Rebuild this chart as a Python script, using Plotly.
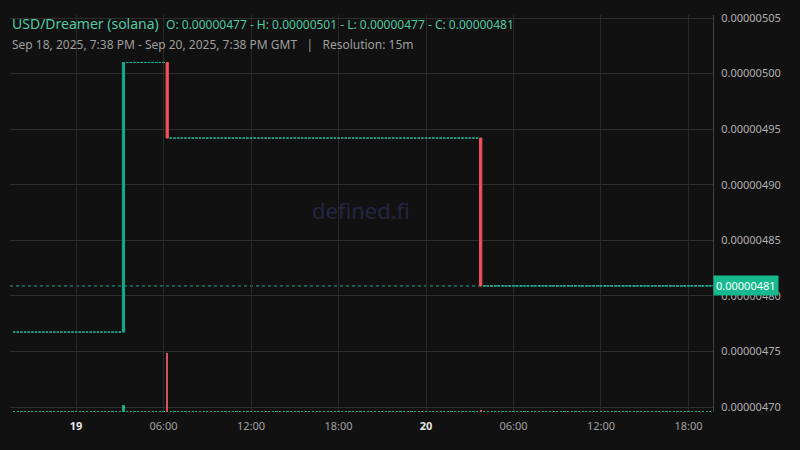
import pandas as pd
import plotly.graph_objects as go

# ---- data ----
start_time = "2025-09-18 19:45"
end_time = "2025-09-20 19:30"
start_price = 0.0000047675

move_times = ["2025-09-19 03:15", "2025-09-19 06:15", "2025-09-20 03:45"]
move_open = [0.0000047675, 0.00000501, 0.000004942]
move_high = [0.00000501, 0.00000501, 0.000004942]
move_low = [0.0000047675, 0.000004942, 0.000004809]
move_close = [0.00000501, 0.000004942, 0.000004809]
move_volume = [12, 100, 4]
base_volume = 2.0
last_price = 0.000004809

price_ticks = [0.00000470, 0.00000475, 0.00000480, 0.00000485,
               0.00000490, 0.00000495, 0.00000500, 0.00000505]
time_ticks = ["2025-09-19 00:00", "2025-09-19 06:00", "2025-09-19 12:00", "2025-09-19 18:00",
              "2025-09-20 00:00", "2025-09-20 06:00", "2025-09-20 12:00", "2025-09-20 18:00"]
time_labels = ["<span style='color:#e6e6e6'><b>19</b></span>", "06:00", "12:00", "18:00",
               "<span style='color:#e6e6e6'><b>20</b></span>", "06:00", "12:00", "18:00"]

# ---- build candle arrays ----
times = pd.date_range(start_time, end_time, freq="15min")
mt = list(pd.to_datetime(move_times))

flat_o, flat_h, flat_l, flat_c = [], [], [], []
mv_o, mv_h, mv_l, mv_c = [], [], [], []
vols, vcols = [], []
level = start_price
for t in times:
    if t in mt:
        k = mt.index(t)
        flat_o.append(None); flat_h.append(None); flat_l.append(None); flat_c.append(None)
        mv_o.append(move_open[k]); mv_h.append(move_high[k]); mv_l.append(move_low[k]); mv_c.append(move_close[k])
        vols.append(move_volume[k])
        vcols.append("rgba(38,190,155,0.85)" if move_close[k] > move_open[k] else "rgba(242,95,108,0.85)")
        level = move_close[k]
    else:
        flat_o.append(level); flat_h.append(level); flat_l.append(level); flat_c.append(level)
        mv_o.append(None); mv_h.append(None); mv_l.append(None); mv_c.append(None)
        vols.append(base_volume)
        vcols.append("rgba(38,190,155,0.85)")

GREEN = "#1aa88c"
RED = "#f0525a"
TEAL = "#22ab94"

fig = go.Figure()
fig.add_trace(go.Bar(x=times, y=vols, yaxis="y2", marker=dict(color=vcols, line=dict(width=0)),
                     width=15 * 60 * 1000 * 0.6, hoverinfo="skip", showlegend=False))
fig.add_trace(go.Candlestick(x=times, open=flat_o, high=flat_h, low=flat_l, close=flat_c,
                             increasing=dict(line=dict(color=TEAL, width=1), fillcolor=TEAL),
                             decreasing=dict(line=dict(color=TEAL, width=1), fillcolor=TEAL),
                             showlegend=False, hoverinfo="skip"))
fig.add_trace(go.Candlestick(x=times, open=mv_o, high=mv_h, low=mv_l, close=mv_c,
                             increasing=dict(line=dict(color=GREEN, width=1), fillcolor=GREEN),
                             decreasing=dict(line=dict(color=RED, width=1), fillcolor=RED),
                             showlegend=False))

fig.add_shape(type="line", xref="paper", x0=0, x1=1, yref="y", y0=last_price, y1=last_price,
              line=dict(color=TEAL, width=1, dash="dot"), layer="between")

fig.add_annotation(xref="paper", x=1, xanchor="left", yref="y", y=last_price, yanchor="middle",
                   text=f"{last_price:.8f}", showarrow=False, bgcolor="#16b98e",
                   font=dict(color="#ffffff", size=11, family="Noto Sans"), borderpad=2)

fig.add_annotation(xref="paper", x=0, xanchor="left", yref="paper", y=1 - 9 / 402, yanchor="middle",
                   text="USD/Dreamer (solana)&nbsp; <span style='font-size:12px'>O: 0.00000477 - H: 0.00000501 - L: 0.00000477 - C: 0.00000481</span>",
                   showarrow=False, font=dict(color="#52c9a3", size=14, family="Noto Sans"))
fig.add_annotation(xref="paper", x=0, xanchor="left", yref="paper", y=1 - 30 / 402, yanchor="middle",
                   text="Sep 18, 2025, 7:38 PM - Sep 20, 2025, 7:38 PM GMT   |   Resolution: 15m",
                   showarrow=False, font=dict(color="#9e9e9e", size=12, family="Noto Sans"))
fig.add_annotation(xref="paper", x=(361 - 10) / 703, yref="paper", y=(412 - 207) / 402,
                   text="defined.fi", showarrow=False,
                   font=dict(color="#252543", size=22, family="Noto Sans"))

fig.update_layout(
    width=800, height=450,
    margin=dict(l=10, r=87, t=10, b=38),
    paper_bgcolor="#111111", plot_bgcolor="#111111",
    font=dict(family="Noto Sans", color="#a8a8a8", size=11),
    showlegend=False, bargap=0, boxgap=0.12,
    xaxis=dict(type="date", range=["2025-09-18 19:28", "2025-09-20 19:41"],
               rangeslider=dict(visible=False), tickvals=time_ticks, ticktext=time_labels,
               showgrid=True, gridcolor="#2a2a2a", gridwidth=1, zeroline=False, showline=False,
               ticks="", ticklabelstandoff=6, tickfont=dict(color="#a0a0a0", size=11)),
    yaxis=dict(side="right", range=[0.0000046956, 0.0000050527], tickvals=price_ticks,
               tickformat=".8f", showgrid=True, gridcolor="#2e2e2e", gridwidth=1,
               zeroline=False, showline=True, linecolor="#444444", linewidth=1,
               ticks="", ticklabelstandoff=5, tickfont=dict(color="#b0b0b0", size=11)),
    yaxis2=dict(overlaying="y", range=[0, 100 / 0.148], visible=False, fixedrange=True),
)

fig.write_html("out.html", config={"displayModeBar": False},
               post_script="document.body.style.margin='0';document.body.style.background='#111111';")
